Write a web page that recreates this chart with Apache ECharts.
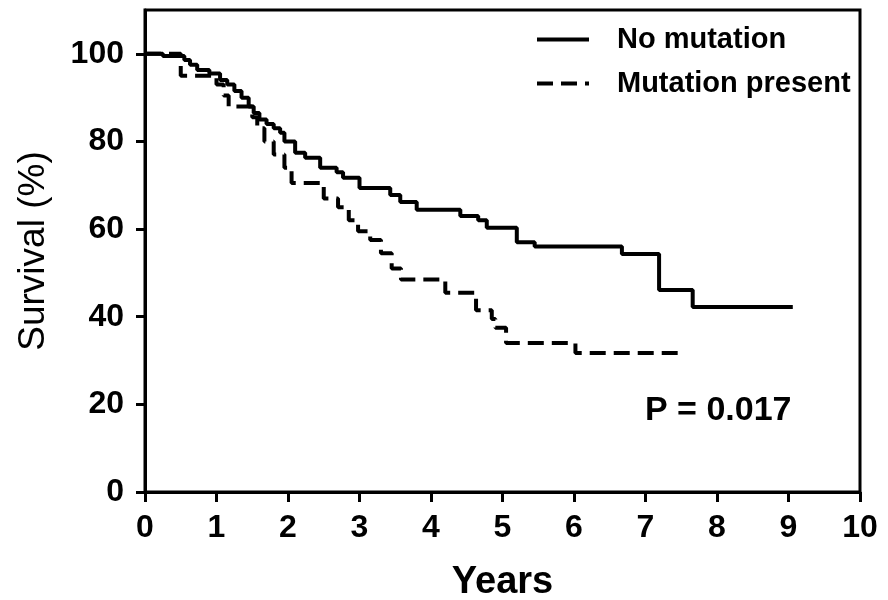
<!DOCTYPE html>
<html>
<head>
<meta charset="utf-8">
<title>Survival</title>
<script src="https://cdn.jsdelivr.net/npm/echarts@6/dist/echarts.min.js"></script>
<style>
  body { margin: 0; background: #fff; }
  #chart { width: 888px; height: 600px; }
</style>
</head>
<body>
<div id="chart"></div>
<script>
// Kaplan-Meier curves (years, survival %)
var noMutTime = [0, 0.25, 0.55, 0.63, 0.73, 0.9, 1.05, 1.15, 1.25, 1.35, 1.45, 1.52, 1.6, 1.7, 1.8, 1.89, 1.95, 2.1, 2.24, 2.45, 2.68, 2.77, 3.0, 3.43, 3.57, 3.8, 4.41, 4.66, 4.78, 5.2, 5.45, 6.67, 7.19, 7.66, 9.06]
var noMutSurv = [100, 99.5, 98.6, 97.5, 96.3, 95.5, 94, 93, 91.5, 90, 88, 86.5, 85, 84, 83, 82, 80, 77.4, 76.3, 74, 73, 71.7, 69.4, 67.8, 66.2, 64.4, 63, 62, 60.3, 57, 56, 54.3, 46.1, 42.2, 42.2]
var mutTime = [0, 0.5, 1.0, 1.1, 1.17, 1.5, 1.57, 1.67, 1.8, 1.95, 2.05, 2.5, 2.7, 2.85, 2.98, 3.15, 3.3, 3.45, 3.58, 4.2, 4.63, 4.85, 4.9, 5.05, 6.02, 7.45]
var mutSurv = [100, 95, 93, 90.5, 88, 85.5, 83, 80, 77, 74, 70.5, 67, 65, 62, 59.5, 57.5, 54.5, 51, 48.5, 45.5, 41.5, 39.5, 37.5, 34, 31.7, 31.7]
var xTicks = [0, 1, 2, 3, 4, 5, 6, 7, 8, 9, 10]
var yTicks = [0, 20, 40, 60, 80, 100]
var seriesNames = ['No mutation', 'Mutation present']
var pValue = 'P = 0.017'

function pairs (xs, ys) {
  return xs.map(function (x, i) { return [x, ys[i]] })
}

var font = 'Liberation Sans, Arial, sans-serif'
var chart = echarts.init(document.getElementById('chart'))

chart.setOption({
  animation: false,
  grid: {
    left: 145,
    right: 28,
    top: 10,
    bottom: 108,
    outerBoundsMode: 'none',
    show: true,
    borderColor: '#000',
    borderWidth: 3
  },
  legend: {
    orient: 'vertical',
    left: 530,
    top: 20,
    itemWidth: 52,
    itemHeight: 14,
    itemGap: 15,
    data: seriesNames,
    // hide the point marker, keep only the line sample
    itemStyle: { opacity: 0 },
    lineStyle: { width: 4 },
    textStyle: { fontFamily: font, fontWeight: 'bold', fontSize: 29, color: '#000', padding: [0, 0, 0, 23] }
  },
  xAxis: {
    type: 'value',
    min: 0,
    max: 10,
    interval: 1,
    name: 'Years',
    nameLocation: 'middle',
    nameGap: 72,
    nameTextStyle: { fontFamily: font, fontWeight: 'bold', fontSize: 38, color: '#000' },
    splitLine: { show: false },
    axisLine: { lineStyle: { color: '#000', width: 3 } },
    axisTick: { length: 10, lineStyle: { color: '#000', width: 3 }, customValues: xTicks },
    axisLabel: { margin: 20, fontFamily: font, fontWeight: 'bold', fontSize: 32, color: '#000', customValues: xTicks }
  },
  yAxis: {
    type: 'value',
    min: 0,
    max: 110,
    interval: 10,
    name: 'Survival (%)',
    nameLocation: 'middle',
    nameGap: 93,
    nameTextStyle: { fontFamily: font, fontSize: 37, color: '#000' },
    splitLine: { show: false },
    axisLine: { lineStyle: { color: '#000', width: 3 } },
    axisTick: { length: 9, lineStyle: { color: '#000', width: 3 }, customValues: yTicks },
    axisLabel: { margin: 21, fontFamily: font, fontWeight: 'bold', fontSize: 32, color: '#000', customValues: yTicks }
  },
  graphic: [{
    type: 'text',
    left: 645,
    top: 394,
    style: { text: pValue, fontFamily: font, fontWeight: 'bold', fontSize: 34, fill: '#000' }
  }],
  series: [
    {
      name: seriesNames[0],
      type: 'line',
      step: 'end',
      symbol: 'none',
      data: pairs(noMutTime, noMutSurv),
      lineStyle: { color: '#000', width: 4 },
      itemStyle: { color: '#000' }
    },
    {
      name: seriesNames[1],
      type: 'line',
      step: 'end',
      symbol: 'none',
      data: pairs(mutTime, mutSurv),
      lineStyle: { color: '#000', width: 4, type: [16, 8] },
      itemStyle: { color: '#000' }
    }
  ]
})
</script>
</body>
</html>
